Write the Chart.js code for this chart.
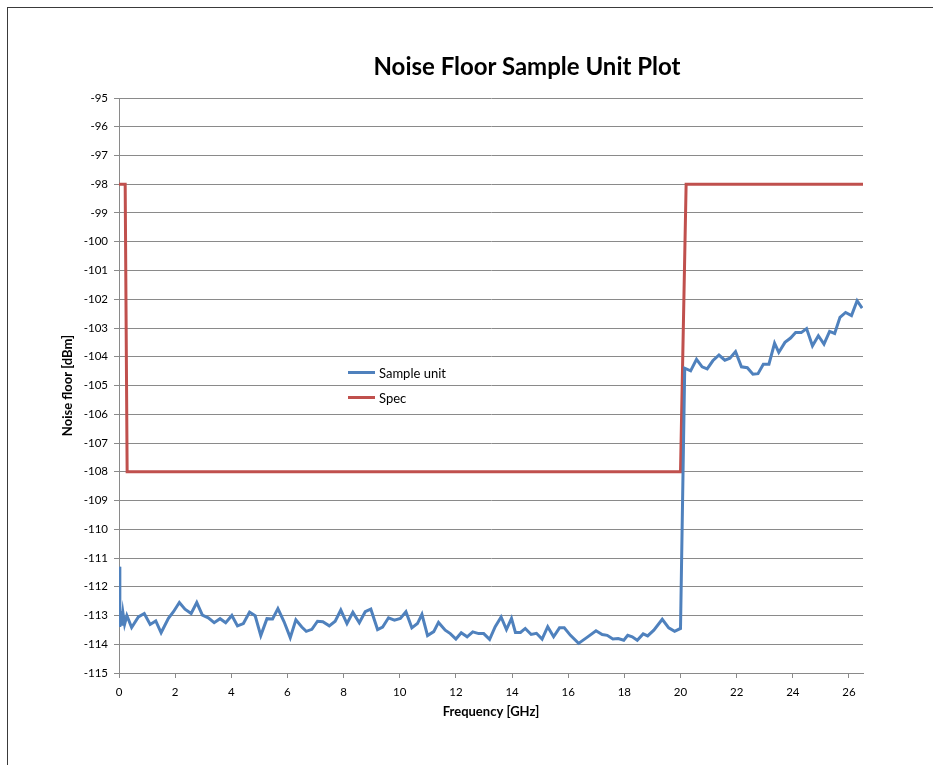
<!DOCTYPE html>
<html>
<head>
<meta charset="utf-8">
<title>Noise Floor Sample Unit Plot</title>
<script src="https://cdn.jsdelivr.net/npm/chart.js@4.4.1/dist/chart.umd.min.js"></script>
<style>
  html, body { margin: 0; padding: 0; background: #fff; overflow: hidden; }
  .frame {
    position: absolute; left: 7px; top: 7px;
    width: 1040px; height: 800px;
    border: 1px solid #3a3a3a;
  }
  .frame canvas { position: absolute; left: 0; top: 0; }
  .title {
    position: absolute; left: 227px; top: 51px; width: 600px;
    text-align: center; font: bold 24px/30px Lato, sans-serif; color: #000;
  }
  .legend { position: absolute; left: 348px; top: 360px; font: 13px Lato, sans-serif; color: #000; }
  .legend .row { height: 25px; display: flex; align-items: center; }
  .legend .swatch { width: 27px; height: 3px; margin-right: 4px; }
</style>
</head>
<body>
<div class="frame">
  <canvas id="noiseChart" width="1040" height="800"></canvas>
</div>
<div class="title">Noise Floor Sample Unit Plot</div>
<div class="legend" id="legend"></div>

<script>
// Sample unit noise floor
const freqGHz = [0, 0.03, 0.06, 0.1, 0.14, 0.2, 0.28, 0.45,
  0.69, 0.90, 1.11, 1.31, 1.50, 1.76, 1.94, 2.15, 2.35, 2.57, 2.77, 2.97, 3.18, 3.39, 3.60, 3.80,
  4.02, 4.22, 4.43, 4.65, 4.85, 5.05, 5.27, 5.47, 5.66, 5.88, 6.10, 6.30, 6.51,
  6.67, 6.87, 7.07, 7.26, 7.49, 7.70, 7.90, 8.12, 8.33, 8.56, 8.77, 8.97, 9.21, 9.39, 9.60, 9.81,
  10.02, 10.22, 10.43, 10.63, 10.79, 10.99, 11.21, 11.38, 11.62, 11.80, 12.00, 12.19, 12.40, 12.60,
  12.81, 12.99, 13.20,
  13.40, 13.61, 13.80, 13.98, 14.12, 14.30, 14.47, 14.68, 14.87, 15.07, 15.27, 15.48, 15.69, 15.86,
  16.08, 16.37, 16.67, 16.99, 17.21, 17.39, 17.59, 17.78, 17.98, 18.12, 18.28, 18.46, 18.67, 18.83,
  19.05, 19.35, 19.58, 19.79, 20.00,
  20.15, 20.36, 20.57, 20.77, 20.95, 21.15, 21.37, 21.58, 21.76, 21.96, 22.17, 22.38, 22.58, 22.76,
  22.95, 23.15, 23.35, 23.50, 23.72, 23.92, 24.10, 24.30, 24.49, 24.70, 24.91, 25.11, 25.31, 25.49,
  25.68, 25.88, 26.09, 26.29, 26.47];

const sampleDbm = [-111.3, -113.4, -112.85, -113.35, -112.9, -113.3, -113.0, -113.42,
  -113.05, -112.93, -113.31, -113.19, -113.6, -113.1, -112.87, -112.55, -112.78, -112.93, -112.55,
  -112.99, -113.08, -113.25, -113.11, -113.25, -113.0, -113.36, -113.28, -112.88, -113.01, -113.7,
  -113.11, -113.12, -112.76, -113.22, -113.77, -113.15, -113.4,
  -113.55, -113.48, -113.2, -113.22, -113.36, -113.2, -112.81, -113.28, -112.89, -113.25, -112.87,
  -112.78, -113.49, -113.4, -113.08, -113.16, -113.1, -112.87, -113.43, -113.28, -112.96, -113.7,
  -113.56, -113.24, -113.51, -113.63, -113.82, -113.6, -113.74, -113.57, -113.63, -113.63, -113.83,
  -113.39, -113.05, -113.49, -113.1, -113.59, -113.59, -113.45, -113.66, -113.62, -113.82, -113.39,
  -113.74, -113.43, -113.43, -113.69, -113.97, -113.76, -113.53, -113.66, -113.69, -113.82, -113.8,
  -113.86, -113.69, -113.74, -113.86, -113.64, -113.71, -113.51, -113.13, -113.43, -113.55, -113.45,
  -104.4, -104.49, -104.09, -104.35, -104.42, -104.14, -103.94, -104.12, -104.05, -103.82, -104.35,
  -104.38, -104.61, -104.59, -104.26, -104.26, -103.53, -103.85, -103.5, -103.35, -103.16, -103.16,
  -103.02, -103.62, -103.27, -103.56, -103.12, -103.19, -102.63, -102.46, -102.57, -102.05, -102.31];

// Spec limit mask
const specFreqGHz = [0, 0.22, 0.29, 20.0, 20.2, 26.5];
const specDbm = [-98, -98, -108, -108, -98, -98];

const seriesNames = ["Sample unit", "Spec"];
const seriesColors = ["#4F81BD", "#C0504D"];

// axis ticks
const xTickValues = [0, 2, 4, 6, 8, 10, 12, 14, 16, 18, 20, 22, 24, 26];
const yMin = -115, yMax = -95;

const toPoints = (xs, ys) => xs.map((x, i) => ({ x: x, y: ys[i] }));

const gridColor = "#8a8a8a";

new Chart(document.getElementById("noiseChart"), {
  type: "scatter",
  data: {
    datasets: [
      {
        label: seriesNames[0],
        data: toPoints(freqGHz, sampleDbm),
        borderColor: seriesColors[0],
        backgroundColor: seriesColors[0],
        showLine: true,
        borderWidth: 3,
        pointRadius: 0,
        tension: 0
      },
      {
        label: seriesNames[1],
        data: toPoints(specFreqGHz, specDbm),
        borderColor: seriesColors[1],
        backgroundColor: seriesColors[1],
        showLine: true,
        borderWidth: 3,
        pointRadius: 0,
        tension: 0
      }
    ]
  },
  options: {
    responsive: false,
    animation: false,
    events: [],
    layout: { padding: { left: 48, right: 185, top: 90, bottom: 79 } },
    plugins: {
      legend: { display: false },
      tooltip: { enabled: false },
      title: { display: false }
    },
    scales: {
      x: {
        type: "linear",
        min: 0,
        max: 26.5,
        afterBuildTicks: (scale) => {
          scale.ticks = xTickValues.map((v) => ({ value: v }));
        },
        afterFit: (scale) => { scale.height = 56; },
        grid: { drawOnChartArea: false, drawTicks: true, tickLength: 5, color: gridColor },
        border: { color: gridColor, width: 1 },
        ticks: { color: "#000", font: { family: "Lato", size: 11.5 }, padding: 7, maxRotation: 0 },
        title: {
          display: true,
          text: "Frequency [GHz]",
          color: "#000",
          font: { family: "Lato", size: 13, weight: "bold" },
          padding: { top: 4, bottom: 9 }
        }
      },
      y: {
        min: yMin,
        max: yMax,
        afterFit: (scale) => { scale.width = 63; },
        ticks: { stepSize: 1, color: "#000", font: { family: "Lato", size: 11.5 }, padding: 6 },
        grid: { color: gridColor, tickLength: 5 },
        border: { color: gridColor, width: 1 },
        title: {
          display: true,
          text: "Noise floor [dBm]",
          color: "#000",
          font: { family: "Lato", size: 13, weight: "bold" },
          padding: { top: 4, bottom: 4 }
        }
      }
    }
  }
});

// legend box sitting inside the plot, like the original
const legendEl = document.getElementById("legend");
seriesNames.forEach((name, i) => {
  const row = document.createElement("div");
  row.className = "row";
  const sw = document.createElement("span");
  sw.className = "swatch";
  sw.style.background = seriesColors[i];
  const txt = document.createElement("span");
  txt.textContent = name;
  row.appendChild(sw);
  row.appendChild(txt);
  legendEl.appendChild(row);
});
</script>
</body>
</html>
